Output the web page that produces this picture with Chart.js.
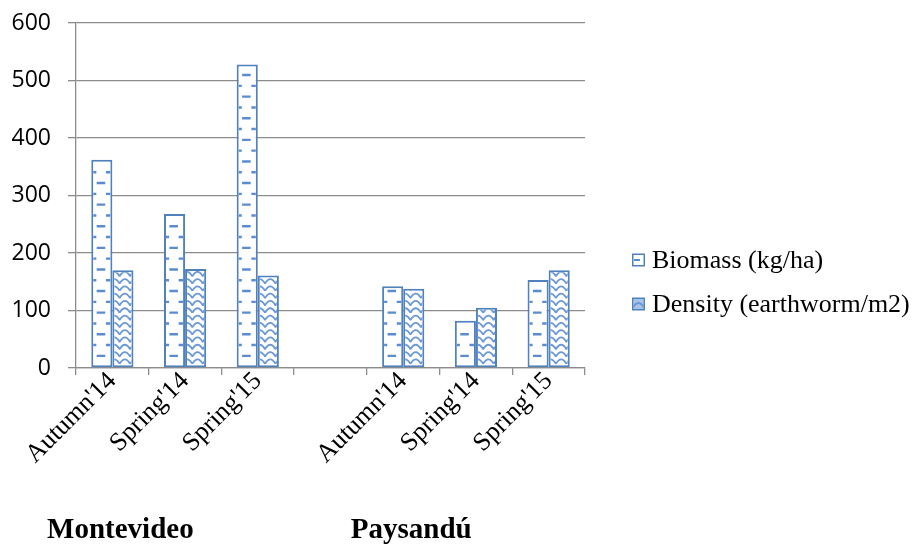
<!DOCTYPE html>
<html>
<head>
<meta charset="utf-8">
<script src="https://cdn.jsdelivr.net/npm/chart.js@4/dist/chart.umd.min.js"></script>
<style>
  html, body { margin: 0; padding: 0; background: #ffffff; }
  #wrap { width: 915px; height: 545px; }
</style>
</head>
<body>
<div id="wrap"><canvas id="c" width="915" height="545"></canvas></div>
<script>
// Seasons sampled at each site; the blank slot separates the two sites
const categories = ["Autumn'14", "Spring'14", "Spring'15", "", "Autumn'14", "Spring'14", "Spring'15"];
const biomass = [362, 268, 528, null, 142, 82, 153];
const density = [170, 172, 161, null, 138, 105, 170];
const seriesNames = ["Biomass (kg/ha)", "Density (earthworm/m2)"];
const sites = ["Montevideo", "Paysandú"];
const siteFirstIndex = [0, 4];
const yMin = 0, yMax = 600, yStep = 100;

const BLUE = '#4f81bd';
const HATCH = '#5b8bd0';
const WAVE = '#6b98d6';
const GRID = '#8c8c8c';
const SERIF = '"Liberation Serif", "Times New Roman", serif';

// Horizontal dash fill: rows alternate between a centred dash and a dash split at the edges
function drawDashes(ctx, l, t, r, b) {
  const w = r - l;
  ctx.strokeStyle = HATCH;
  ctx.lineWidth = 2.4;
  let k = 0;
  for (let y = b - 9.5; y > t + 1; y -= 10.8, k++) {
    ctx.beginPath();
    if (k % 2 === 0) {
      ctx.moveTo(l + w * 0.2, y); ctx.lineTo(l + w * 0.7, y);
    } else {
      ctx.moveTo(l - 2, y); ctx.lineTo(l + w * 0.18, y);
      ctx.moveTo(l + w * 0.74, y); ctx.lineTo(r + 2, y);
    }
    ctx.stroke();
  }
}

// Wave fill: stacked rows of small arches
function drawWaves(ctx, l, t, r, b) {
  ctx.strokeStyle = WAVE;
  ctx.lineWidth = 1.8;
  const px = 10.5, py = 7.3;
  for (let y = b - 1.5; y > t - py; y -= py) {
    ctx.beginPath();
    for (let x = l - px / 2; x < r + px; x += px) {
      ctx.moveTo(x, y);
      ctx.quadraticCurveTo(x + px / 2, y - 9, x + px, y);
    }
    ctx.stroke();
  }
}

const fills = [drawDashes, drawWaves];

const patternPlugin = {
  id: 'barPatterns',
  afterDatasetsDraw(chart) {
    const ctx = chart.ctx;
    chart.data.datasets.forEach((ds, di) => {
      const meta = chart.getDatasetMeta(di);
      meta.data.forEach((el) => {
        const p = el.getProps(['x', 'y', 'base', 'width'], true);
        if (p.y == null || isNaN(p.y)) return;
        const bw = 2;
        const l = p.x - p.width / 2 + bw, r = p.x + p.width / 2 - bw;
        const t = Math.min(p.y, p.base) + bw, b = Math.max(p.y, p.base) - bw;
        if (b <= t) return;
        ctx.save();
        ctx.beginPath();
        ctx.rect(l, t, r - l, b - t);
        ctx.clip();
        fills[di](ctx, l, t, r, b);
        ctx.restore();
      });
    });
  }
};

const legendPlugin = {
  id: 'sideLegend',
  afterDraw(chart) {
    const ctx = chart.ctx;
    const x0 = chart.chartArea.right + 47;
    const rows = [260, 304];
    chart.data.datasets.forEach((ds, i) => {
      const cy = rows[i];
      const s = 13;
      const mx = x0, my = cy - s / 2;
      ctx.save();
      ctx.fillStyle = '#ffffff';
      ctx.fillRect(mx, my, s, s);
      ctx.beginPath();
      ctx.rect(mx + 1.5, my + 1.5, s - 3, s - 3);
      ctx.clip();
      if (i === 0) {
        ctx.strokeStyle = HATCH; ctx.lineWidth = 2;
        ctx.beginPath(); ctx.moveTo(mx + 2, my + 6.5); ctx.lineTo(mx + 8, my + 6.5); ctx.stroke();
      } else {
        ctx.fillStyle = '#a9c3e8';
        ctx.fillRect(mx, my, s, s);
        ctx.strokeStyle = WAVE; ctx.lineWidth = 2;
        ctx.beginPath(); ctx.moveTo(mx + 1, my + 10); ctx.quadraticCurveTo(mx + 6.5, my + 1, mx + 12, my + 10); ctx.stroke();
      }
      ctx.restore();
      ctx.strokeStyle = BLUE; ctx.lineWidth = 1.5;
      ctx.strokeRect(mx + 0.75, my + 0.75, s - 1.5, s - 1.5);
      ctx.fillStyle = '#000000';
      ctx.font = '26px ' + SERIF;
      ctx.textAlign = 'left';
      ctx.textBaseline = 'middle';
      ctx.fillText(ds.label, x0 + 20, cy + 1);
    });
  }
};

const sitePlugin = {
  id: 'siteLabels',
  afterDraw(chart) {
    const ctx = chart.ctx;
    const xs = chart.scales.x;
    ctx.save();
    ctx.fillStyle = '#000000';
    ctx.font = 'bold 29px ' + SERIF;
    ctx.textAlign = 'center';
    ctx.textBaseline = 'alphabetic';
    sites.forEach((name, i) => {
      ctx.fillText(name, xs.getPixelForValue(siteFirstIndex[i]) + 8, 538);
    });
    ctx.restore();
  }
};

const barStyle = {
  backgroundColor: '#ffffff',
  borderColor: BLUE,
  borderWidth: 2,
  borderSkipped: false,
  categoryPercentage: 0.58,
  barPercentage: 1
};

new Chart(document.getElementById('c'), {
  type: 'bar',
  data: {
    labels: categories,
    datasets: [
      Object.assign({ label: seriesNames[0], data: biomass }, barStyle),
      Object.assign({ label: seriesNames[1], data: density }, barStyle)
    ]
  },
  options: {
    responsive: false,
    animation: false,
    devicePixelRatio: 1,
    layout: { padding: { top: 23, right: 330, bottom: 0, left: 0 } },
    plugins: {
      colors: { enabled: false },
      legend: { display: false },
      tooltip: { enabled: false },
      title: { display: false }
    },
    scales: {
      x: {
        afterFit(scale) { scale.height = 177; },
        grid: {
          display: true,
          drawOnChartArea: false,
          drawTicks: true,
          tickLength: 7,
          color: GRID,
          lineWidth: 1.3
        },
        border: { display: true, color: GRID, width: 1.3 },
        ticks: {
          autoSkip: false,
          minRotation: 45,
          maxRotation: 45,
          padding: -9,
          color: '#000000',
          font: { family: SERIF, size: 26 }
        }
      },
      y: {
        min: yMin,
        max: yMax,
        afterFit(scale) {
          scale.width = 76;
          // let the layout padding alone decide the top edge of the plot
          scale.paddingTop = 0;
          scale.paddingBottom = 0;
        },
        grid: {
          color: GRID,
          lineWidth: 1.3,
          drawTicks: true,
          tickLength: 8
        },
        border: { display: true, color: GRID, width: 1.3 },
        ticks: {
          stepSize: yStep,
          padding: 17,
          color: '#000000',
          font: { family: '"Open Sans", sans-serif', size: 23 }
        }
      }
    }
  },
  plugins: [patternPlugin, legendPlugin, sitePlugin]
});
</script>
</body>
</html>
